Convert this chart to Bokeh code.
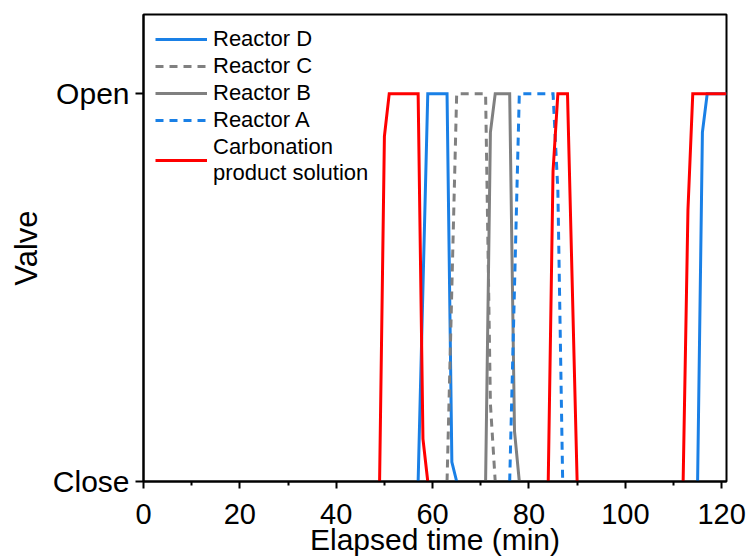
import math
from bokeh.plotting import figure
from bokeh.models import Range1d, FixedTicker, Legend, LegendItem
from bokeh.embed import file_html
from bokeh.resources import INLINE

nan = float("nan")

# Valve state: 0 = Close, 1 = Open ; time in minutes
time_D = [57, 59, 63, 64, 65, nan, 115, 116, 117, 121]
valve_D = [0, 1, 1, 0.05, 0, nan, 0, 0.9, 1, 1]

time_C = [63, 65, 71, 72, 73]
valve_C = [0, 1, 1, 0.2, 0]

time_B = [71, 72, 73, 76, 77, 78]
valve_B = [0, 0.9, 1, 1, 0.13, 0]

time_A = [76, 78, 85, 86, 87]
valve_A = [0, 1, 1, 0.75, 0]

time_CP = [49, 50, 51, 57, 58, 59, nan, 84, 85, 86, 88, 90, nan, 112, 113, 114, 121]
valve_CP = [0, 0.89, 1, 1, 0.11, 0, nan, 0, 0.8, 1, 1, 0, nan, 0, 0.7, 1, 1]

x_ticks = [0, 20, 40, 60, 80, 100, 120]
x_minor = [10, 30, 50, 70, 90, 110]
y_ticks = [0, 1]
y_labels = {0: "Close", 1: "Open"}

FONT = "Liberation Sans"
BLUE = "#1A80E6"
GRAY = "#808080"
RED = "#FF0000"

W, H = 748, 559
p = figure(width=W, height=H, output_backend="svg", toolbar_location=None,
           x_range=Range1d(0, 121), y_range=Range1d(0, 1.204),
           min_border_left=143, min_border_right=W - 726, min_border_top=14,
           min_border_bottom=H - 481)
p.background_fill_color = "white"
p.border_fill_color = "white"
p.grid.visible = False
p.outline_line_color = "black"
p.outline_line_width = 2

common = dict(line_width=3, line_join="miter")
rD = p.line(time_D, valve_D, line_color=BLUE, **common)
rC = p.line(time_C, valve_C, line_color=GRAY, line_dash="8 6", **common)
rB = p.line(time_B, valve_B, line_color=GRAY, **common)
rA = p.line(time_A, valve_A, line_color=BLUE, line_dash="8 6", **common)
rCP = p.line(time_CP, valve_CP, line_color=RED, **common)

legend = Legend(items=[
    LegendItem(label="Reactor D", renderers=[rD]),
    LegendItem(label="Reactor C", renderers=[rC]),
    LegendItem(label="Reactor B", renderers=[rB]),
    LegendItem(label="Reactor A", renderers=[rA]),
    LegendItem(label="Carbonation\nproduct solution", renderers=[rCP]),
], location="top_left")
legend.background_fill_alpha = 0
legend.border_line_alpha = 0
legend.label_text_font = FONT
legend.label_text_font_size = "22px"
legend.label_text_color = "black"
legend.glyph_width = 52
legend.glyph_height = 20
legend.spacing = 1
legend.padding = 0
legend.margin = 12
legend.label_standoff = 6
legend.label_height = 20
p.add_layout(legend)

xa = p.xaxis[0]
xa.ticker = FixedTicker(ticks=x_ticks, minor_ticks=x_minor)
xa.axis_label = "Elapsed time (min)"
ya = p.yaxis[0]
ya.ticker = FixedTicker(ticks=y_ticks)
ya.major_label_overrides = y_labels
ya.axis_label = "Valve"

for ax in (xa, ya):
    ax.axis_line_width = 2
    ax.axis_line_color = "black"
    ax.major_tick_line_width = 2
    ax.minor_tick_line_width = 2
    ax.major_tick_out = 7
    ax.major_tick_in = 0
    ax.minor_tick_out = 4
    ax.minor_tick_in = 0
    ax.major_label_text_font = FONT
    ax.major_label_text_color = "black"
    ax.axis_label_text_font = FONT
    ax.axis_label_text_font_style = "normal"
    ax.axis_label_text_color = "black"
xa.major_label_text_font_size = "29px"
ya.major_label_text_font_size = "30px"
xa.axis_label_text_font_size = "30px"
ya.axis_label_text_font_size = "31px"
ya.major_label_orientation = "horizontal"
ya.minor_tick_out = 0
ya.major_tick_out = 8
xa.major_label_standoff = 15
xa.axis_label_standoff = -4
ya.major_label_standoff = 6
ya.axis_label_standoff = 6

open("out.html", "w").write(file_html(p, INLINE))
